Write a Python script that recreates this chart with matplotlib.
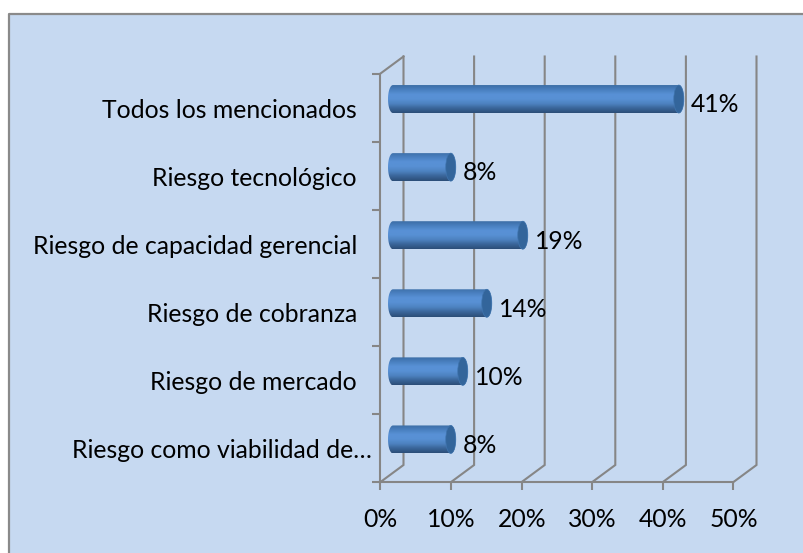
#!/usr/bin/env python3
"""Horizontal cylinder-bar chart of perceived risks, drawn on a pseudo-3D frame."""

import matplotlib

matplotlib.use("Agg")
import matplotlib.pyplot as plt
import numpy as np
from matplotlib.colors import LinearSegmentedColormap
from matplotlib.patches import Ellipse, PathPatch, Rectangle
from matplotlib.path import Path

categories = [
    "Riesgo como viabilidad de…",
    "Riesgo de mercado",
    "Riesgo de cobranza",
    "Riesgo de capacidad gerencial",
    "Riesgo tecnológico",
    "Todos los mencionados",
]
percent_labels = [8, 10, 14, 19, 8, 41]
# drawn length of each cylinder (they run a bit long)
bar_lengths = [9.6, 11.3, 14.7, 19.8, 9.6, 41.9]
x_ticks = [0, 10, 20, 30, 40, 50]

W, H = 804, 553
AX_L, AX_R, AX_T, AX_B = 380.5, 733.5, 73.5, 482
BG = "#C6D9F1"
GRID = "#868686"
FONT = "Lato"
FS = 17.8
LW = 1.5


def main() -> None:
    fig = plt.figure(figsize=(W / 100, H / 100), dpi=100)
    fig.patch.set_facecolor("white")
    fig.add_artist(
        Rectangle(
            (9 / W, 0),
            1 - 9 / W,
            1 - 14 / H,
            transform=fig.transFigure,
            facecolor=BG,
            edgecolor="none",
            zorder=-2,
        )
    )
    # only the left and top edges of the frame are visible
    fig.add_artist(
        plt.Line2D(
            [9 / W, 9 / W, 1],
            [0, 1 - 14 / H, 1 - 14 / H],
            transform=fig.transFigure,
            color="#8a8a8a",
            lw=1.6,
            zorder=-1,
        )
    )

    ax = fig.add_axes(
        [AX_L / W, 1 - AX_B / H, (AX_R - AX_L) / W, (AX_B - AX_T) / H],
        facecolor="none",
    )
    px_x = 50 / (AX_R - AX_L)
    px_y = 6 / (AX_B - AX_T)

    # back wall and floor lines
    back_dx, back_dy = 23 * px_x, 17 * px_y
    for v in x_ticks:
        ax.plot(
            [v, v + back_dx, v + back_dx],
            [0, back_dy, 6 + back_dy],
            color=GRID,
            lw=LW,
            clip_on=False,
            zorder=1,
            solid_joinstyle="miter",
        )
    ax.plot([0, back_dx], [6, 6 + back_dy], color=GRID, lw=LW, clip_on=False, zorder=1)

    # cylinders
    cmap = LinearSegmentedColormap.from_list(
        "cyl", ["#3C6EA6", "#4A80C0", "#5891D6", "#5890D4", "#4D82C0", "#3A6599", "#2C4E78"]
    )
    grad = np.linspace(0, 1, 64).reshape(-1, 1)
    x0 = 7.5 * px_x
    dy = 8.5 * px_y
    half_h = 14 * px_y
    rx = 5 * px_x
    t = np.linspace(-np.pi / 2, np.pi / 2, 40)
    for i, length in enumerate(bar_lengths):
        yc = i + 0.5 + dy
        x1 = x0 + length
        xs = np.r_[x0 + rx - rx * np.cos(t), x1 - rx + rx * np.cos(t[::-1])]
        ys = np.r_[yc + half_h * np.sin(t), yc + half_h * np.sin(t[::-1])]
        clip = PathPatch(Path(np.c_[xs, ys]), transform=ax.transData, fc="none", ec="none")
        ax.add_patch(clip)
        im = ax.imshow(
            grad,
            extent=[x0, x1, yc - half_h, yc + half_h],
            origin="upper",
            aspect="auto",
            cmap=cmap,
            zorder=2,
        )
        im.set_clip_path(clip)
        ax.add_patch(
            Ellipse(
                (x1 - rx, yc),
                2 * rx,
                2 * half_h,
                facecolor="#33659B",
                edgecolor="#3F74AE",
                lw=0.5,
                zorder=3,
            )
        )
        ax.annotate(
            f"{percent_labels[i]}%",
            xy=(x1, yc),
            xytext=(5, -4.2),
            textcoords="offset points",
            ha="left",
            va="center",
            fontsize=FS,
            family=FONT,
            color="black",
            zorder=5,
        )

    ax.set_xlim(0, 50)
    ax.set_ylim(0, 6)
    ax.set_xticks(x_ticks)
    ax.set_xticklabels([f"{v}%" for v in x_ticks], fontsize=FS, family=FONT)
    ax.set_yticks(range(7))
    ax.set_yticklabels([])
    # label centres sit a little under the middle of each slot
    ax.set_yticks(np.arange(6) + 0.5 - 0.015, labels=categories, minor=True, fontsize=FS, family=FONT)
    ax.tick_params(axis="both", which="major", color=GRID, width=LW, length=5.5)
    ax.tick_params(axis="x", pad=13)
    ax.tick_params(axis="y", which="minor", length=0, pad=17)
    ax.yaxis.get_minor_ticks()[0].set_pad(6)
    for side in ("top", "right"):
        ax.spines[side].set_visible(False)
    for side in ("left", "bottom"):
        ax.spines[side].set_color(GRID)
        ax.spines[side].set_linewidth(LW)

    fig.savefig("out.png", dpi=100, facecolor="white")
    plt.close(fig)


if __name__ == "__main__":
    main()
